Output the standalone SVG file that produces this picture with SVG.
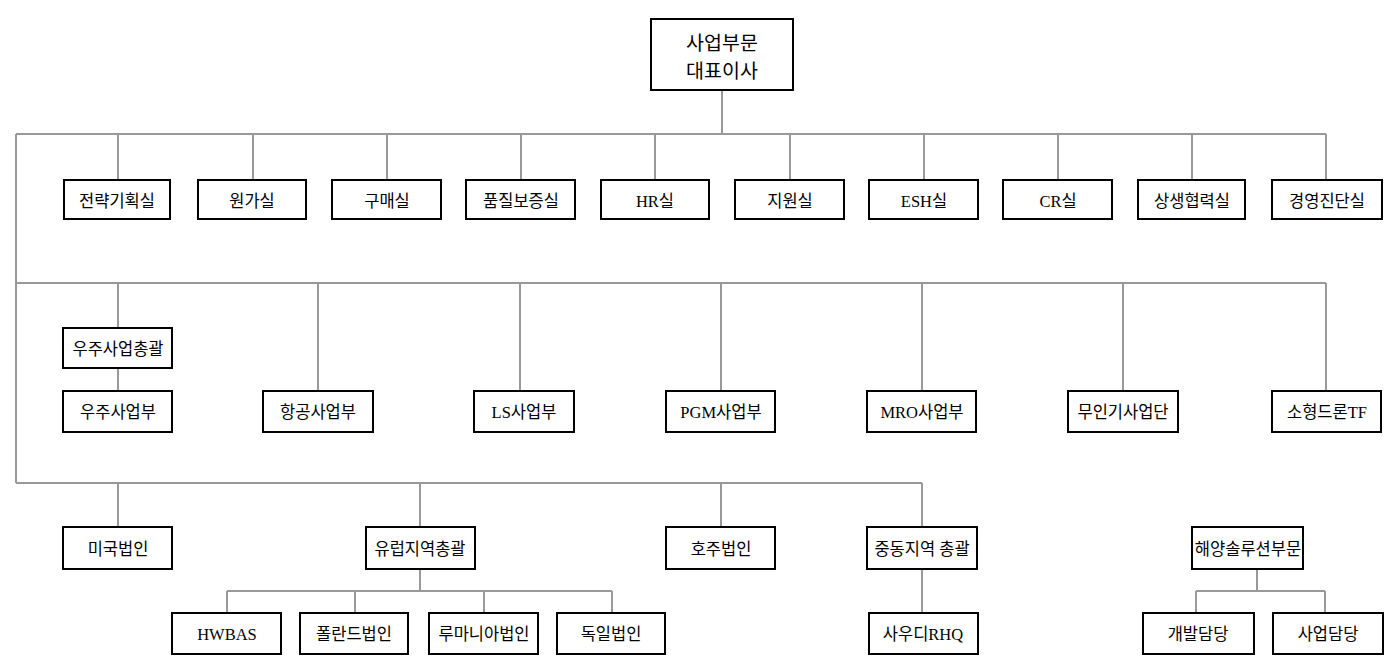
<svg xmlns="http://www.w3.org/2000/svg" width="1397" height="672" viewBox="0 0 1397 672">
<style>
.b{fill:#fff;stroke:#000;stroke-width:2}
.t{font-family:"Liberation Serif","Noto Sans CJK KR",serif;font-size:16.5px;fill:#000;text-anchor:middle;dominant-baseline:central}
.tt{font-size:19.5px}
.c{stroke:#999;stroke-width:2;fill:none}
</style>
<rect width="1397" height="672" fill="#fff"/>
<g id="connectors">
<path class="c" d="M722 90V134M16 134H1326M16 134V483"/>
<path class="c" d="M118 134V180M253 134V180M387 134V180M521 134V180M655 134V180M790 134V180M924 134V180M1058 134V180M1192 134V180M1326 134V180"/>
<path class="c" d="M16 283H1326M118 283V328M118 368V391M318 283V391M520 283V391M721 283V391M922 283V391M1123 283V391M1326 283V391"/>
<path class="c" d="M16 483H922M118 483V527M420 483V527M721 483V527M922 483V527"/>
<path class="c" d="M420 569V591M227 591H612M227 591V613M355 591V613M484 591V613M612 591V613"/>
<path class="c" d="M922 569V613"/>
<path class="c" d="M1257 569V591M1196 591H1325M1196 591V613M1325 591V613"/>
</g>
<g id="n-ceo"><rect class="b" x="651" y="19" width="142" height="71"/><text class="t tt" x="722" y="43">사업부문</text><text class="t tt" x="722" y="71">대표이사</text></g>
<g id="n1"><rect class="b" x="64" y="180" width="106" height="39"/><text class="t" x="117" y="201">전략기획실</text></g>
<g id="n2"><rect class="b" x="198" y="180" width="108" height="39"/><text class="t" x="252" y="201">원가실</text></g>
<g id="n3"><rect class="b" x="332" y="180" width="109" height="39"/><text class="t" x="387" y="201">구매실</text></g>
<g id="n4"><rect class="b" x="466" y="180" width="109" height="39"/><text class="t" x="521" y="201">품질보증실</text></g>
<g id="n5"><rect class="b" x="601" y="180" width="108" height="39"/><text class="t" x="655" y="201">HR실</text></g>
<g id="n6"><rect class="b" x="735" y="180" width="109" height="39"/><text class="t" x="790" y="201">지원실</text></g>
<g id="n7"><rect class="b" x="869" y="180" width="109" height="39"/><text class="t" x="924" y="201">ESH실</text></g>
<g id="n8"><rect class="b" x="1003" y="180" width="109" height="39"/><text class="t" x="1058" y="201">CR실</text></g>
<g id="n9"><rect class="b" x="1138" y="180" width="107" height="39"/><text class="t" x="1192" y="201">상생협력실</text></g>
<g id="n10"><rect class="b" x="1272" y="180" width="110" height="39"/><text class="t" x="1327" y="201">경영진단실</text></g>
<g id="n11"><rect class="b" x="63" y="328" width="109" height="40"/><text class="t" x="118" y="349">우주사업총괄</text></g>
<g id="n12"><rect class="b" x="63" y="391" width="109" height="41"/><text class="t" x="118" y="412">우주사업부</text></g>
<g id="n13"><rect class="b" x="263" y="391" width="110" height="41"/><text class="t" x="318" y="412">항공사업부</text></g>
<g id="n14"><rect class="b" x="474" y="391" width="100" height="41"/><text class="t" x="524" y="412">LS사업부</text></g>
<g id="n15"><rect class="b" x="666" y="391" width="109" height="41"/><text class="t" x="721" y="412">PGM사업부</text></g>
<g id="n16"><rect class="b" x="867" y="391" width="109" height="41"/><text class="t" x="922" y="412">MRO사업부</text></g>
<g id="n17"><rect class="b" x="1068" y="391" width="110" height="41"/><text class="t" x="1123" y="412">무인기사업단</text></g>
<g id="n18"><rect class="b" x="1272" y="391" width="109" height="41"/><text class="t" x="1327" y="412">소형드론TF</text></g>
<g id="n19"><rect class="b" x="63" y="527" width="109" height="42"/><text class="t" x="118" y="549">미국법인</text></g>
<g id="n20"><rect class="b" x="366" y="527" width="109" height="42"/><text class="t" x="420" y="549">유럽지역총괄</text></g>
<g id="n21"><rect class="b" x="666" y="527" width="109" height="42"/><text class="t" x="721" y="549">호주법인</text></g>
<g id="n22"><rect class="b" x="867" y="527" width="110" height="42"/><text class="t" x="922" y="549">중동지역 총괄</text></g>
<g id="n23"><rect class="b" x="1192" y="527" width="111" height="42"/><text class="t" x="1248" y="549">해양솔루션부문</text></g>
<g id="n24"><rect class="b" x="172" y="613" width="109" height="41"/><text class="t" x="227" y="634">HWBAS</text></g>
<g id="n25"><rect class="b" x="300" y="613" width="108" height="41"/><text class="t" x="354" y="634">폴란드법인</text></g>
<g id="n26"><rect class="b" x="429" y="613" width="109" height="41"/><text class="t" x="484" y="634">루마니아법인</text></g>
<g id="n27"><rect class="b" x="557" y="613" width="108" height="41"/><text class="t" x="611" y="634">독일법인</text></g>
<g id="n28"><rect class="b" x="869" y="613" width="109" height="41"/><text class="t" x="923" y="634">사우디RHQ</text></g>
<g id="n29"><rect class="b" x="1143" y="613" width="111" height="41"/><text class="t" x="1198" y="634">개발담당</text></g>
<g id="n30"><rect class="b" x="1273" y="613" width="110" height="41"/><text class="t" x="1328" y="634">사업담당</text></g>
</svg>
